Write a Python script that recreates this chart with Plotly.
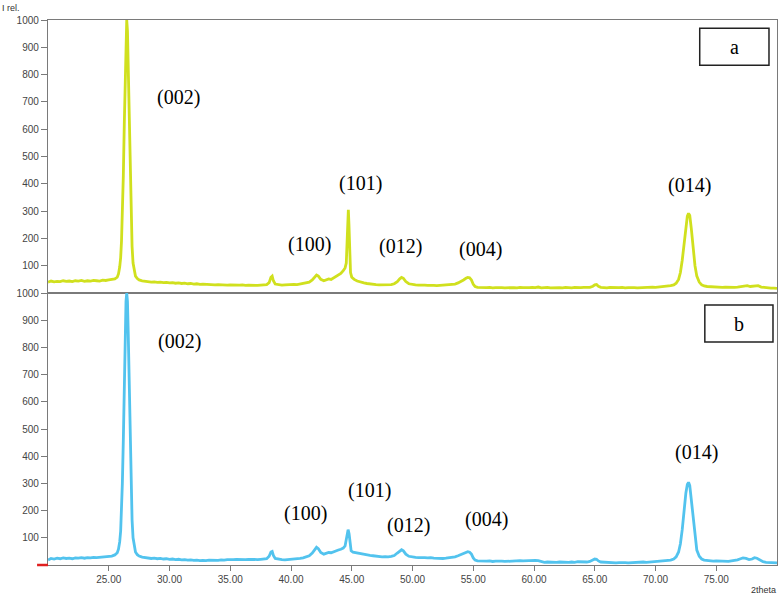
import plotly.graph_objects as go
from plotly.subplots import make_subplots

# XRD patterns (2theta, relative intensity)
pattern_a = [
    (20.0, 40), (20.25, 44), (20.5, 41), (20.75, 43), (21.0, 42), (21.25, 45), (21.5, 43), (21.75, 44),
    (22.0, 42), (22.25, 45), (22.5, 44), (22.75, 46), (23.0, 43), (23.25, 45), (23.5, 44), (23.75, 46),
    (24.0, 45), (24.25, 44), (24.5, 47), (24.75, 46), (25.0, 48), (25.25, 49), (25.5, 52),
    (25.7, 58), (25.8, 70), (25.9, 95), (25.98, 130), (26.05, 190), (26.12, 290), (26.2, 430),
    (26.28, 620), (26.35, 800), (26.42, 950), (26.48, 1000), (26.54, 960), (26.6, 840), (26.68, 640),
    (26.76, 440), (26.84, 280), (26.92, 170), (27.0, 110), (27.1, 78), (27.2, 62), (27.35, 53),
    (27.5, 48), (27.75, 45), (28.0, 43), (28.25, 42), (28.5, 40), (28.75, 41), (29.0, 39), (29.25, 40),
    (29.5, 38), (29.75, 39), (30.0, 37), (30.25, 38), (30.5, 36), (30.75, 37), (31.0, 35), (31.25, 36),
    (31.5, 34), (31.75, 35), (32.0, 33), (32.25, 34), (32.5, 32), (32.75, 33), (33.0, 32), (33.25, 31),
    (33.5, 32), (33.75, 30), (34.0, 31), (34.25, 30), (34.5, 31), (34.75, 29), (35.0, 30), (35.25, 29),
    (35.5, 30), (35.75, 29), (36.0, 30), (36.25, 28), (36.5, 29), (36.75, 28), (37.0, 29), (37.25, 28),
    (37.5, 29), (37.75, 30), (38.0, 31), (38.2, 38), (38.35, 58), (38.45, 62), (38.55, 45), (38.7, 33),
    (39.0, 30), (39.25, 29), (39.5, 30), (39.75, 31), (40.0, 30), (40.25, 32), (40.5, 31), (40.75, 33),
    (41.0, 34), (41.25, 36), (41.5, 40), (41.75, 48), (41.95, 60), (42.1, 66), (42.25, 62), (42.45, 50),
    (42.7, 45), (42.9, 48), (43.1, 52), (43.3, 50), (43.5, 55), (43.7, 60), (43.9, 66), (44.1, 72),
    (44.3, 82), (44.45, 92), (44.55, 110), (44.62, 180), (44.68, 270), (44.72, 305), (44.77, 250),
    (44.82, 140), (44.9, 75), (45.0, 58), (45.2, 50), (45.45, 44), (45.7, 40), (46.0, 37), (46.25, 35),
    (46.5, 33), (46.75, 32), (47.0, 31), (47.25, 30), (47.5, 30), (47.75, 29), (48.0, 30), (48.25, 31),
    (48.5, 34), (48.75, 42), (48.95, 52), (49.1, 57), (49.25, 54), (49.45, 42), (49.7, 34), (50.0, 31),
    (50.25, 30), (50.5, 29), (50.75, 30), (51.0, 29), (51.25, 28), (51.5, 29), (51.75, 28), (52.0, 27),
    (52.25, 28), (52.5, 27), (52.75, 28), (53.0, 29), (53.25, 30), (53.5, 33), (53.75, 37), (54.0, 42),
    (54.2, 48), (54.4, 54), (54.55, 57), (54.7, 56), (54.85, 48), (55.0, 32), (55.15, 24), (55.35, 21),
    (55.6, 20), (55.85, 21), (56.1, 20), (56.35, 21), (56.6, 19), (56.85, 20), (57.1, 21), (57.35, 20),
    (57.6, 19), (57.85, 20), (58.1, 21), (58.35, 20), (58.6, 19), (58.85, 21), (59.1, 20), (59.35, 19),
    (59.6, 20), (59.85, 21), (60.1, 20), (60.35, 22), (60.6, 19), (60.85, 20), (61.1, 21), (61.35, 19),
    (61.6, 20), (61.85, 21), (62.1, 20), (62.35, 19), (62.6, 21), (62.85, 20), (63.1, 19), (63.35, 21),
    (63.6, 20), (63.85, 20), (64.1, 21), (64.35, 20), (64.6, 21), (64.85, 25), (65.0, 30), (65.15, 31),
    (65.3, 25), (65.5, 21), (65.75, 20), (66.0, 19), (66.25, 21), (66.5, 20), (66.75, 19), (67.0, 20),
    (67.25, 21), (67.5, 19), (67.75, 20), (68.0, 21), (68.25, 20), (68.5, 19), (68.75, 20), (69.0, 21),
    (69.25, 20), (69.5, 21), (69.75, 22), (70.0, 21), (70.25, 22), (70.5, 23), (70.75, 24), (71.0, 25),
    (71.25, 27), (71.5, 30), (71.7, 36), (71.9, 50), (72.05, 75), (72.2, 120), (72.35, 185), (72.5, 250),
    (72.62, 282), (72.72, 292), (72.82, 284), (72.95, 235), (73.1, 165), (73.25, 100), (73.4, 62),
    (73.6, 40), (73.8, 30), (74.0, 26), (74.25, 24), (74.5, 23), (74.75, 22), (75.0, 23), (75.25, 22),
    (75.5, 21), (75.75, 22), (76.0, 21), (76.25, 22), (76.5, 21), (76.75, 22), (77.0, 24), (77.3, 27),
    (77.55, 27), (77.8, 24), (78.0, 25), (78.25, 28), (78.45, 27), (78.7, 22), (79.0, 20), (79.25, 19),
    (79.5, 18), (79.75, 18), (80.0, 17),
]

pattern_b = [
    (20.0, 18), (20.25, 24), (20.5, 22), (20.75, 25), (21.0, 23), (21.25, 26), (21.5, 24), (21.75, 25),
    (22.0, 23), (22.25, 26), (22.5, 25), (22.75, 27), (23.0, 25), (23.25, 27), (23.5, 26), (23.75, 28),
    (24.0, 27), (24.25, 28), (24.5, 30), (24.75, 30), (25.0, 31), (25.25, 33), (25.5, 37),
    (25.7, 45), (25.8, 58), (25.9, 85), (25.98, 125), (26.05, 190), (26.12, 300), (26.2, 460),
    (26.28, 660), (26.35, 840), (26.42, 970), (26.48, 1000), (26.54, 970), (26.6, 860), (26.68, 660),
    (26.76, 450), (26.84, 280), (26.92, 165), (27.0, 100), (27.1, 65), (27.2, 48), (27.35, 38),
    (27.5, 33), (27.75, 29), (28.0, 27), (28.25, 26), (28.5, 24), (28.75, 25), (29.0, 23), (29.25, 24),
    (29.5, 22), (29.75, 23), (30.0, 21), (30.25, 22), (30.5, 20), (30.75, 21), (31.0, 19), (31.25, 20),
    (31.5, 18), (31.75, 19), (32.0, 17), (32.25, 18), (32.5, 16), (32.75, 17), (33.0, 16), (33.25, 18),
    (33.5, 17), (33.75, 18), (34.0, 17), (34.25, 19), (34.5, 18), (34.75, 20), (35.0, 19), (35.25, 20),
    (35.5, 21), (35.75, 20), (36.0, 21), (36.25, 20), (36.5, 21), (36.75, 20), (37.0, 21), (37.25, 20),
    (37.5, 21), (37.75, 22), (38.0, 23), (38.2, 32), (38.35, 48), (38.45, 50), (38.55, 35), (38.7, 24),
    (39.0, 21), (39.25, 20), (39.5, 19), (39.75, 20), (40.0, 19), (40.25, 21), (40.5, 22), (40.75, 24),
    (41.0, 26), (41.25, 29), (41.5, 34), (41.75, 44), (41.95, 58), (42.1, 65), (42.25, 60), (42.45, 46),
    (42.7, 40), (42.9, 42), (43.1, 46), (43.3, 45), (43.5, 49), (43.7, 52), (43.9, 55), (44.1, 58),
    (44.3, 62), (44.45, 70), (44.55, 95), (44.62, 120), (44.7, 130), (44.78, 115), (44.86, 75),
    (44.95, 52), (45.1, 47), (45.3, 45), (45.55, 42), (45.8, 40), (46.0, 38), (46.25, 37), (46.5, 35),
    (46.75, 34), (47.0, 32), (47.25, 31), (47.5, 30), (47.75, 31), (48.0, 30), (48.25, 32), (48.5, 35),
    (48.75, 44), (48.95, 53), (49.1, 56), (49.25, 52), (49.45, 40), (49.7, 32), (50.0, 29), (50.25, 28),
    (50.5, 27), (50.75, 28), (51.0, 27), (51.25, 26), (51.5, 27), (51.75, 25), (52.0, 24), (52.25, 25),
    (52.5, 24), (52.75, 25), (53.0, 26), (53.25, 27), (53.5, 30), (53.75, 34), (54.0, 39), (54.2, 44),
    (54.4, 47), (54.55, 49), (54.7, 47), (54.85, 40), (55.0, 26), (55.15, 18), (55.35, 15), (55.6, 14),
    (55.85, 15), (56.1, 14), (56.35, 15), (56.6, 13), (56.85, 14), (57.1, 15), (57.35, 14), (57.6, 13),
    (57.85, 14), (58.1, 15), (58.35, 14), (58.6, 15), (58.85, 16), (59.1, 15), (59.35, 16), (59.6, 17),
    (59.85, 16), (60.1, 17), (60.35, 16), (60.6, 12), (60.85, 10), (61.1, 11), (61.35, 10), (61.6, 9),
    (61.85, 10), (62.1, 11), (62.35, 10), (62.6, 9), (62.85, 10), (63.1, 11), (63.35, 10), (63.6, 12),
    (63.85, 11), (64.1, 12), (64.35, 11), (64.6, 13), (64.85, 17), (65.0, 22), (65.15, 21), (65.3, 15),
    (65.5, 11), (65.75, 10), (66.0, 9), (66.25, 10), (66.5, 9), (66.75, 8), (67.0, 9), (67.25, 10),
    (67.5, 9), (67.75, 8), (68.0, 9), (68.25, 10), (68.5, 9), (68.75, 10), (69.0, 11), (69.25, 10),
    (69.5, 11), (69.75, 12), (70.0, 11), (70.25, 12), (70.5, 13), (70.75, 14), (71.0, 16), (71.25, 18),
    (71.5, 22), (71.7, 30), (71.9, 48), (72.05, 78), (72.2, 130), (72.35, 200), (72.5, 265), (72.62, 296),
    (72.72, 304), (72.82, 292), (72.95, 240), (73.1, 165), (73.25, 95), (73.4, 55), (73.6, 32),
    (73.8, 22), (74.0, 18), (74.25, 16), (74.5, 15), (74.75, 14), (75.0, 15), (75.25, 14), (75.5, 13),
    (75.75, 14), (76.0, 13), (76.25, 15), (76.5, 16), (76.75, 19), (77.0, 23), (77.2, 26), (77.45, 24),
    (77.7, 20), (77.95, 22), (78.15, 27), (78.35, 25), (78.6, 17), (78.85, 12), (79.1, 10), (79.4, 9),
    (79.7, 8), (80.0, 8),
]

# Miller index labels and where they sit (2theta, intensity)
hkl_labels = ["(002)", "(100)", "(101)", "(012)", "(004)", "(014)"]
label_pos_a = [(30.7, 717), (41.56, 176), (45.68, 402), (49.05, 172), (55.6, 161), (72.8, 395)]
label_pos_b = [(30.86, 821), (41.23, 188), (46.5, 273), (49.63, 144), (56.05, 167), (73.4, 415)]

x_ticks = [25, 30, 35, 40, 45, 50, 55, 60, 65, 70, 75]
y_ticks = [100, 200, 300, 400, 500, 600, 700, 800, 900, 1000]

color_a = "#d0e01e"
color_b = "#52c3ee"
axis_grey = "#7a7a7a"
tick_font = dict(family="Liberation Sans, Arial, sans-serif", size=10, color="#444444")
label_font = dict(family="Liberation Serif, Times New Roman, serif", size=20, color="black")
small_font = dict(family="Liberation Sans, Arial, sans-serif", size=9, color="#333333")

fig = make_subplots(rows=2, cols=1, shared_xaxes=True, vertical_spacing=0)

fig.add_trace(go.Scatter(x=[p[0] for p in pattern_a], y=[p[1] for p in pattern_a], mode="lines",
                         line=dict(color=color_a, width=2.8), showlegend=False), row=1, col=1)
fig.add_trace(go.Scatter(x=[p[0] for p in pattern_b], y=[p[1] for p in pattern_b], mode="lines",
                         line=dict(color=color_b, width=2.8), showlegend=False), row=2, col=1)

for text, (x, y) in zip(hkl_labels, label_pos_a):
    fig.add_annotation(x=x, y=y, xref="x", yref="y", text=text, showarrow=False, font=label_font,
                       xanchor="center", yanchor="middle")
for text, (x, y) in zip(hkl_labels, label_pos_b):
    fig.add_annotation(x=x, y=y, xref="x2", yref="y2", text=text, showarrow=False, font=label_font,
                       xanchor="center", yanchor="middle")

# sample boxes "a" and "b"
box_line = dict(color="#222222", width=1.5)
fig.add_shape(type="rect", xref="paper", yref="paper", x0=0.894, x1=0.989, y0=0.917, y1=0.985,
              line=box_line, fillcolor="white", layer="above")
fig.add_annotation(xref="paper", yref="paper", x=0.9415, y=0.951, text="a", showarrow=False,
                   font=label_font, xanchor="center", yanchor="middle")
fig.add_shape(type="rect", xref="paper", yref="paper", x0=0.901, x1=0.9945, y0=0.409, y1=0.477,
              line=box_line, fillcolor="white", layer="above")
fig.add_annotation(xref="paper", yref="paper", x=0.948, y=0.443, text="b", showarrow=False,
                   font=label_font, xanchor="center", yanchor="middle")

# small red marker at the origin of the lower axis
fig.add_shape(type="line", xref="paper", yref="paper", x0=-0.015, x1=0, y0=0, y1=0,
              line=dict(color="#e02020", width=2.5))

fig.add_annotation(xref="paper", yref="paper", x=-0.066, y=1.022, xanchor="left", yanchor="middle",
                   text="I rel.", showarrow=False, font=small_font)
fig.add_annotation(xref="paper", yref="paper", x=1.002, y=-0.046, xanchor="right", yanchor="middle",
                   text="2theta", showarrow=False, font=small_font)

axis_common = dict(showgrid=False, zeroline=False, showline=True, linecolor=axis_grey, linewidth=1.3,
                   mirror=True)
fig.update_xaxes(range=[20, 80], **axis_common)
fig.update_xaxes(showticklabels=False, ticks="", row=1, col=1)
fig.update_xaxes(tickvals=x_ticks, ticktext=[f"{v:.2f}" for v in x_ticks], ticks="outside", ticklen=5,
                 tickcolor=axis_grey, tickfont=tick_font, row=2, col=1)
fig.update_yaxes(range=[0, 1000], tickvals=y_ticks, ticks="outside", ticklen=6, tickcolor=axis_grey,
                 tickfont=tick_font, **axis_common)

fig.update_layout(
    width=780, height=600,
    margin=dict(l=48, r=3, t=20, b=35),
    paper_bgcolor="white", plot_bgcolor="white",
)
fig.layout.yaxis.domain = [0.499, 1.0]
fig.layout.yaxis2.domain = [0.0, 0.499]

# page body has a default 8px margin; drop it so the figure sits at the window corner
fig.write_html("out.html", config={"displayModeBar": False},
               post_script="document.body.style.margin='0';")
